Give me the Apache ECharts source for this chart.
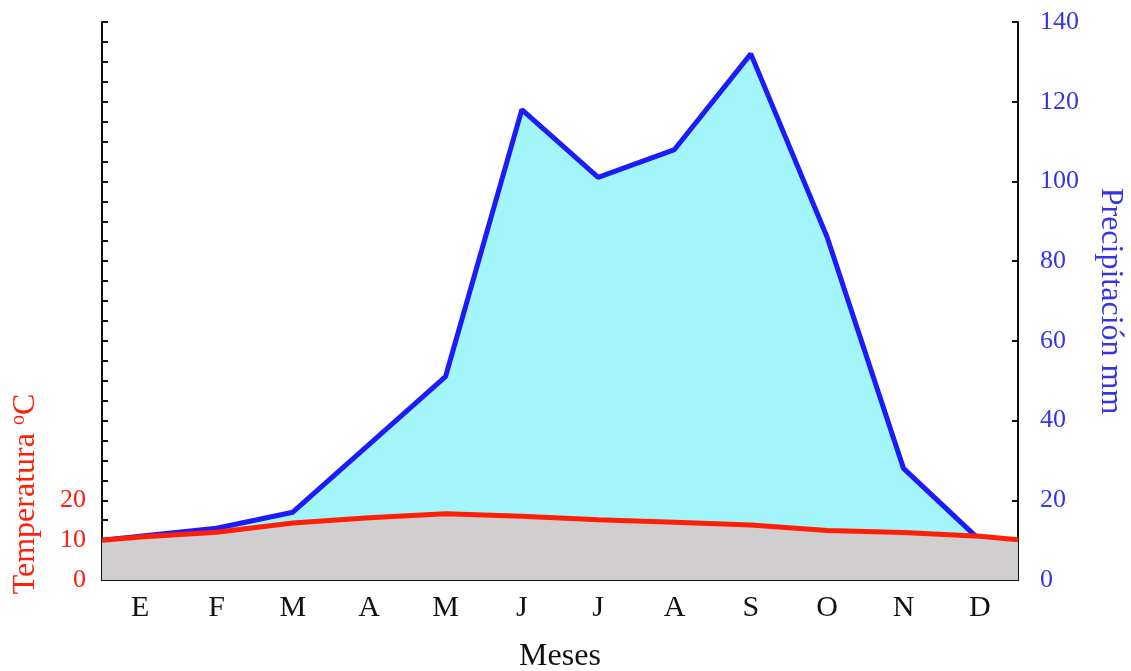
<!DOCTYPE html>
<html>
<head>
<meta charset="utf-8">
<script src="https://cdn.jsdelivr.net/npm/echarts@6/dist/echarts.min.js"></script>
<style>
html,body{margin:0;padding:0;background:#fff;}
#c{width:1131px;height:671px;}
</style>
</head>
<body>
<div id="c"></div>
<script>
// ---- data ----
var months = ['E','F','M','A','M','J','J','A','S','O','N','D'];
var precipitation = [11, 13, 17, 34, 51, 118, 101, 108, 132, 86, 28, 10]; // mm
var precipStart = 10;
var temperature = [10.8, 12, 14.3, 15.6, 16.6, 16, 15.1, 14.5, 13.8, 12.4, 11.9, 11]; // °C
var tempStart = 10;
var tempEnd = 10.1;
var tempTicks = [0, 10, 20];
var precipTicks = [0, 20, 40, 60, 80, 100, 120, 140];

var FONT = 'Liberation Serif';
var RED = '#ff1e08';
var BLUE = '#1c1cfa';
var LBLUE = '#3535e6';

// build [x, y] pairs on the hidden value axis (month index -> centre)
var precipData = [[0, precipStart]].concat(precipitation.map(function (v, i) { return [i + 0.5, v]; }));
var tempData = [[0, tempStart]].concat(temperature.map(function (v, i) { return [i + 0.5, v]; })).concat([[months.length, tempEnd]]);

var chart = echarts.init(document.getElementById('c'), null, {renderer: 'canvas'});
var axisLine = {show: true, lineStyle: {color: '#111', width: 2}};
chart.setOption({
  animation: false,
  backgroundColor: '#fff',
  grid: {left: 102, right: 113, top: 22, bottom: 91, containLabel: false, outerBoundsMode: 'none'},
  xAxis: [{
    type: 'category',
    data: months,
    boundaryGap: true,
    position: 'bottom',
    axisLine: axisLine,
    axisTick: {show: true, inside: true, length: 6, lineStyle: {color: '#111', width: 2}},
    axisLabel: {color: '#111', fontFamily: FONT, fontSize: 30, margin: 13},
    splitLine: {show: false},
    name: 'Meses',
    nameLocation: 'middle',
    nameGap: 61,
    nameTextStyle: {color: '#111', fontFamily: FONT, fontSize: 32}
  }, {
    type: 'value', min: 0, max: months.length, show: false
  }],
  yAxis: [{
    type: 'value', min: 0, max: 140, interval: 5, position: 'left',
    axisLine: axisLine,
    axisTick: {show: true, inside: true, length: 6, lineStyle: {color: '#111', width: 2}},
    axisLabel: {
      color: RED, fontFamily: FONT, fontSize: 26, margin: 16,
      formatter: function (v) { return tempTicks.indexOf(v) >= 0 ? String(v) : ''; }
    },
    splitLine: {show: false}
  }, {
    type: 'value', min: 0, max: 140, interval: 20, position: 'right',
    axisLine: axisLine,
    axisTick: {show: true, inside: true, length: 6, lineStyle: {color: '#111', width: 2}},
    axisLabel: {
      color: LBLUE, fontFamily: FONT, fontSize: 26, margin: 22,
      formatter: function (v) { return precipTicks.indexOf(v) >= 0 ? String(v) : ''; }
    },
    splitLine: {show: false},
    name: 'Precipitación mm',
    nameLocation: 'middle',
    nameRotate: -90,
    nameGap: 76,
    nameTextStyle: {color: LBLUE, fontFamily: FONT, fontSize: 32}
  }],
  series: [{
    name: 'Precipitación',
    type: 'line',
    xAxisIndex: 1, yAxisIndex: 1,
    data: precipData,
    symbol: 'none',
    lineStyle: {color: BLUE, width: 5},
    areaStyle: {color: '#a2f6fa', opacity: 1},
    z: 2
  }, {
    name: 'Temperatura',
    type: 'line',
    xAxisIndex: 1, yAxisIndex: 0,
    data: tempData,
    symbol: 'none',
    lineStyle: {color: RED, width: 5},
    areaStyle: {color: '#d0cece', opacity: 1},
    z: 3
  }],
  graphic: [{
    type: 'text',
    x: 26, y: 494,
    rotation: Math.PI / 2,
    style: {
      text: 'Temperatura {sup|o}C',
      fill: RED,
      font: '32px "Liberation Serif"',
      align: 'center',
      verticalAlign: 'middle',
      rich: {sup: {fontSize: 20, fontFamily: FONT, fill: RED, verticalAlign: 'top', padding: [0, 0, 14, 0]}}
    }
  }]
});
</script>
</body>
</html>
